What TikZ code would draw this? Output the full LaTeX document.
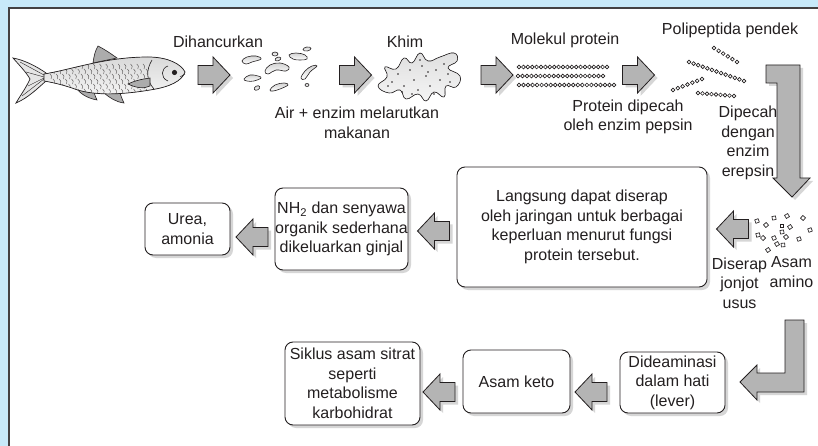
\documentclass[tikz,border=0pt]{standalone}
\usepackage{fontspec}
\setmainfont{Liberation Sans}
\usetikzlibrary{shadows,calc}
\definecolor{framebg}{HTML}{C8E9F9}
\definecolor{arrowfill}{HTML}{B4B4B4}
\definecolor{shade}{HTML}{D6D6D6}
\definecolor{ink}{HTML}{231F20}
% a row of small beads between two points
\newcommand\beadchain[3]{\foreach \k in {0,...,#3}{\draw[bead] ($(#1)!{\k/#3}!(#2)$) circle (1.9);}}
\begin{document}
\begin{tikzpicture}[x=1pt,y=-1pt,
  lbl/.style={font=\fontsize{16}{19.5}\selectfont, align=center, inner sep=0pt, text=ink},
  card/.style={lbl, draw=ink, line width=0.9pt, rounded corners=8pt, fill=white,
    drop shadow={shadow xshift=3pt, shadow yshift=-3pt, fill=shade, opacity=1}},
  arrowbody/.style={draw=ink, line width=0.8pt, fill=arrowfill, line join=miter},
  arrowshadow/.style={fill=shade},
  bead/.style={draw=ink, line width=0.65pt},
  scrap/.style={draw=ink, line width=0.6pt, top color=gray!35, bottom color=white},
  fin/.style={draw=ink, line width=0.6pt, fill=gray!65},
  rightarrow/.pic={
    \fill[arrowshadow] (-13,-6.5) -- (2,-6.5) -- (2,-15) -- (19,3) -- (2,21) -- (2,12.5) -- (-13,12.5) -- cycle;
    \draw[arrowbody] (-16,-9.5) -- (-1,-9.5) -- (-1,-18) -- (16,0) -- (-1,18) -- (-1,9.5) -- (-16,9.5) -- cycle;
  },
  leftarrow/.pic={
    \fill[arrowshadow] (19,-6.5) -- (4,-6.5) -- (4,-15) -- (-13,3) -- (4,21) -- (4,12.5) -- (19,12.5) -- cycle;
    \draw[arrowbody] (16,-9.5) -- (1,-9.5) -- (1,-18) -- (-16,0) -- (1,18) -- (1,9.5) -- (16,9.5) -- cycle;
  }
]
\useasboundingbox (0,0) rectangle (818,446);
% frame
\fill[framebg] (0,0) rectangle (818,446);
\fill[white] (8,7) rectangle (818,446);
\draw[ink!85, line width=1.6pt] (8.8,446) -- (8.8,7.8) -- (818,7.8);

% ---------- fish ----------
\filldraw[draw=ink, line width=0.7pt, fill=gray!20]
  (46,73) .. controls (36,66) and (24,60) .. (13,58) .. controls (20,66) and (26,72) .. (30,79)
  .. controls (26,88) and (20,96) .. (16,103) .. controls (28,98) and (38,88) .. (46,81) -- cycle;
\draw[ink, line width=0.4pt] (44,75) -- (20,62) (44,77) -- (26,72) (44,79) -- (22,96) (44,78) -- (28,86);
\draw[fin] (93,63) .. controls (94,56) and (95,51) .. (98,46) .. controls (104,49) and (110,53) .. (117,58) -- cycle;
\draw[fin] (76,88) .. controls (80,93) and (86,98) .. (97,100) .. controls (95,96) and (94,93) .. (94,90) -- cycle;
\draw[fin] (104,93) .. controls (110,98) and (116,102) .. (124,103) .. controls (122,99) and (121,96) .. (120,93) -- cycle;
\filldraw[draw=ink, line width=0.7pt, top color=gray!30, bottom color=gray!8]
  (44,74) .. controls (70,70) and (105,57) .. (148,57) .. controls (168,57) and (181,64) .. (185,72)
  .. controls (182,81) and (170,87) .. (150,90) .. controls (120,95) and (92,96) .. (72,88)
  .. controls (60,84) and (50,82) .. (44,81) -- cycle;
\begin{scope}
  \clip (44,74) .. controls (70,70) and (105,57) .. (148,57) -- (148,91) .. controls (120,95) and (92,96) .. (72,88)
  .. controls (60,84) and (50,82) .. (44,81) -- cycle;
  \foreach \i in {0,...,15}{
    \foreach \j in {0,...,5}{
      \draw[ink!80, line width=0.4pt] ({50+\i*6.2+mod(\j,2)*3},{64+\j*5}) .. controls ({52+\i*6.2+mod(\j,2)*3},{66+\j*5}) .. ({51+\i*6.2+mod(\j,2)*3},{69+\j*5});
    }
  }
\end{scope}
\draw[ink, line width=0.6pt] (152,60) .. controls (146,70) and (146,80) .. (154,89);
\draw[ink, line width=0.6pt] (168,66) .. controls (161,68) and (160,78) .. (168,81);
\draw[fin] (150,78) .. controls (144,79) and (136,80) .. (128,84) .. controls (136,88) and (144,89) .. (150,86) -- cycle;
\fill[ink] (174.5,72.5) circle (2.6);
\draw[ink, line width=0.5pt] (180,77) -- (185,74);

% ---------- broken-up food ----------
\foreach \pts in {
  {(242,61) (247,57) (256,56) (261,59) (252,62) (246,64)},
  {(289,55) (296,53) (305,55) (307,59) (300,60) (293,59)},
  {(265,71) (270,65) (280,63) (289,67) (286,71) (276,70) (268,74)},
  {(301,78) (305,71) (312,66) (317,66) (310,72) (305,79)},
  {(244,79) (250,75) (258,76) (261,78) (254,81) (247,81)},
  {(270,90) (275,85) (284,83) (288,85) (280,89) (273,91)}}
  \draw[scrap] plot[smooth cycle, tension=0.7] coordinates \pts;
\foreach \x/\y/\a/\b/\r in {275/54/3/2/0, 278/59/3/1.8/20, 307/49/4/2/10, 257/88/3/2/30, 307/85/2/1.5/0}
  \draw[scrap, rotate around={\r:(\x,\y)}] (\x,\y) ellipse ({\a} and {\b});

% ---------- chyme ----------
\filldraw[draw=ink, line width=0.6pt, top color=gray!25, bottom color=gray!8]
  plot[smooth cycle, tension=0.8] coordinates {(378,86) (387,77) (385,67) (396,69)
  (404,58) (412,63) (420,53) (428,61) (440,57) (454,53) (457,61) (448,68) (460,76) (456,87) (446,86) (444,97)
  (434,92) (426,101) (418,94) (406,99) (400,90) (389,93)};
\foreach \x/\y in {392/82, 398/74, 404/86, 410/70, 414/80, 418/90, 422/66, 426/76, 430/86, 436/70, 440/80,
  444/64, 448/74, 434/94, 412/94, 402/92, 420/60, 450/82, 388/86, 428/72}
  \fill[ink] (\x,\y) circle (0.9);

% ---------- protein molecules ----------
\beadchain{519,67}{607,67}{20}
\beadchain{518,76}{603,76}{19}
\beadchain{519,85}{614,85}{21}

% ---------- short polypeptides ----------
\beadchain{714,48}{737,62}{5}
\beadchain{689,62}{744,81}{12}
\beadchain{673,90}{702,79}{6}
\beadchain{698,93}{734,96}{8}

% ---------- amino acids ----------
\foreach \x/\y/\r in {757/221/20, 766/225/40, 774/218/10, 787/216/30, 803/218/50, 810/230/20, 782/226/0,
  790/227/35, 758/235/15, 763/238/45, 774/238/25, 782/232/10, 786/237/40, 799/239/20, 777/244/30,
  783/245/5, 768/250/35}
  \draw[bead, rotate around={\r:(\x,\y)}] (\x-1.8,\y-1.8) rectangle (\x+1.8,\y+1.8);

% ---------- labels ----------
\node[lbl] (dihancur) at (218,42) {Dihancurkan};
\node[lbl] (khim) at (405,42) {Khim};
\node[lbl] (air) at (357,123) {Air + enzim melarutkan\\makanan};
\node[lbl] (molekul) at (565,40) {Molekul protein};
\node[lbl] (polip) at (730,30) {Polipeptida pendek};
\node[lbl] (pepsin) at (628,117) {Protein dipecah\\oleh enzim pepsin};
\node[lbl] (erepsin) at (748,143) {Dipecah\\dengan\\enzim\\erepsin};
\node[lbl] (asam) at (791.5,272) {Asam\\amino};
\node[lbl] (diserap) at (739.5,283) {Diserap\\jonjot\\usus};

% ---------- boxes ----------
\node[card, minimum width=250pt, minimum height=120pt] (langsung) at (582,227)
  {Langsung dapat diserap\\oleh jaringan untuk berbagai\\keperluan menurut fungsi\\protein tersebut.};
\node[card, minimum width=133pt, minimum height=82pt] (nh) at (341.5,229)
  {NH\textsubscript{2} dan senyawa\\organik sederhana\\dikeluarkan ginjal};
\node[card, minimum width=85pt, minimum height=52pt] (urea) at (187.5,229) {Urea,\\amonia};
\node[card, minimum width=135pt, minimum height=83pt] (siklus) at (352.5,383.5)
  {Siklus asam sitrat\\seperti\\metabolisme\\karbohidrat};
\node[card, minimum width=107pt, minimum height=63pt] (keto) at (516.5,381.5) {Asam keto};
\node[card, minimum width=105pt, minimum height=61pt] (deam) at (672.5,382.5) {Dideaminasi\\dalam hati\\(lever)};

% ---------- block arrows ----------
\pic at (214,75) {rightarrow};
\pic at (355.5,75) {rightarrow};
\pic at (497,75) {rightarrow};
\pic at (638.5,75) {rightarrow};
\pic at (732.5,229) {leftarrow};
\pic at (433.5,231) {leftarrow};
\pic at (252,237) {leftarrow};
\pic at (591,392) {leftarrow};
\pic at (439,392) {leftarrow};

% bent arrow down to the amino acids
\fill[arrowshadow] (769,68) -- (803,68) -- (803,181) -- (813,181) -- (795,200) -- (776,181) -- (780,181) -- (780,86) -- (769,86) -- cycle;
\draw[arrowbody] (766,65) -- (800,65) -- (800,178) -- (810,178) -- (792,197) -- (773,178) -- (777,178) -- (777,83) -- (766,83) -- cycle;
% bent arrow into the liver box
\fill[arrowshadow] (788,323) -- (807,323) -- (807,395) -- (760,395) -- (760,403) -- (743,385) -- (760,368) -- (760,376) -- (788,376) -- cycle;
\draw[arrowbody] (785,320) -- (804,320) -- (804,392) -- (757,392) -- (757,400) -- (740,382) -- (757,365) -- (757,373) -- (785,373) -- cycle;
\end{tikzpicture}
\end{document}
